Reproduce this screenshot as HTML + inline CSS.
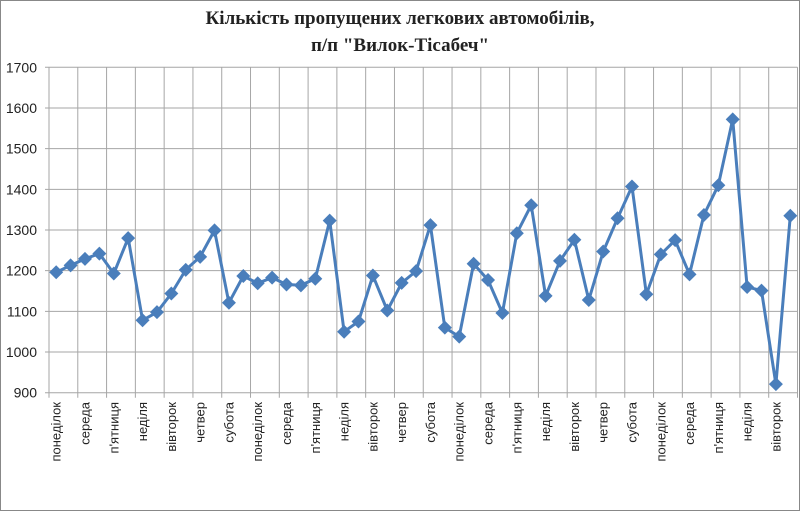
<!DOCTYPE html>
<html><head><meta charset="utf-8"><style>
body{margin:0;background:#fff}
svg{display:block}
</style></head><body>
<svg id="chart" width="800" height="511" xmlns="http://www.w3.org/2000/svg">
<rect x="0.5" y="0.5" width="799" height="510" fill="#fff" stroke="#888" stroke-width="1"/>
<text x="400" y="24" text-anchor="middle" font-family="'Liberation Serif',serif" font-weight="bold" font-size="19" fill="#222">Кількість пропущених легкових автомобілів,</text>
<text x="400" y="51" text-anchor="middle" font-family="'Liberation Serif',serif" font-weight="bold" font-size="19" fill="#222">п/п "Вилок-Тісабеч"</text>
<g id="grid"></g><g id="axes"></g><g id="series"></g>
</svg>
<script>
const days = ["понеділок","вівторок","середа","четвер","п'ятниця","субота","неділя"];
const values = [1196,1213,1229,1242,1193,1280,1078,1098,1144,1202,1234,1299,1121,1187,1169,1183,1166,1164,1180,1323,1050,1075,1188,1102,1170,1199,1312,1060,1038,1217,1177,1096,1292,1361,1138,1224,1276,1128,1247,1329,1407,1142,1240,1275,1191,1337,1410,1572,1160,1151,921,1335];
const yTicks = [900,1000,1100,1200,1300,1400,1500,1600,1700];
const categories = values.map((v,i)=>days[i%7]);
const NS="http://www.w3.org/2000/svg";
const X0=49,X1=797.5,Y0=392.7,Y1=67.3,yMin=900,yMax=1700;
const bw=(X1-X0)/categories.length;
const xs=i=>X0+(i+0.5)*bw;
const ys=v=>Y0-(v-yMin)/(yMax-yMin)*(Y0-Y1);
function mk(tag,attrs,parent){const e=document.createElementNS(NS,tag);for(const k in attrs)e.setAttribute(k,attrs[k]);parent.appendChild(e);return e;}
const grid=document.getElementById('grid'),axes=document.getElementById('axes'),ser=document.getElementById('series');
yTicks.forEach(t=>{
  const l=mk('line',{x1:X0-4,x2:X1,y1:ys(t),y2:ys(t),stroke:'#a6a6a6','stroke-width':1},grid);
  
  
  const tx=mk('text',{x:37,y:ys(t)+5,'text-anchor':'end','font-family':"'Liberation Sans',sans-serif",'font-size':14,fill:'#222'},axes);
  tx.textContent=t;
  
  
});
for(let i=0;i<=categories.length;i+=2){
  const x=X0+i*bw;
  const l=mk('line',{x1:x,x2:x,y1:Y1,y2:Y0+5,stroke:'#a6a6a6','stroke-width':1},grid);
  
  
}
for(let i=0;i<categories.length;i+=2){
  const x=xs(i)+4.5,y=402;
  const tx=mk('text',{x:x,y:y,transform:`rotate(-90 ${x} ${y})`,'text-anchor':'end','font-family':"'Liberation Sans',sans-serif",'font-size':13,fill:'#222'},axes);
  tx.textContent=categories[i];
  
  
}
const pts=values.map((v,i)=>xs(i).toFixed(1)+','+ys(v).toFixed(1)).join(' ');
const pl=mk('polyline',{points:pts,fill:'none',stroke:'#4a7ebb','stroke-width':3,'stroke-linejoin':'round'},ser);


values.forEach((v,i)=>{
  const x=xs(i),y=ys(v),r=7;
  const p=mk('polygon',{points:`${x},${y-r} ${x+r},${y} ${x},${y+r} ${x-r},${y}`,fill:'#4a7ebb'},ser);
  
  
});
</script>
</body></html>
